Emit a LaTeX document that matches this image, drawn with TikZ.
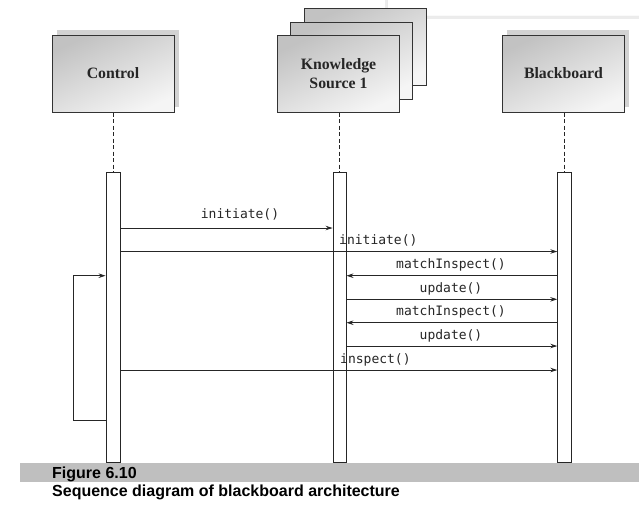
\documentclass[tikz,border=0pt]{standalone}
\usepackage{fontspec}
\setmainfont{Liberation Serif}
\newfontfamily\msgfont{DejaVu Sans Mono}
\newfontfamily\capfont{Liberation Sans}
\usetikzlibrary{arrows.meta}
\begin{document}
\begin{tikzpicture}[x=1pt,y=-1pt,
  objbox/.style={draw=black!80, line width=1pt, minimum width=122pt, minimum height=77pt,
    inner sep=0pt, top color=gray!48, bottom color=gray!8, shading angle=25,
    font=\bfseries\fontsize{15.8}{18.3}\selectfont, align=center, text=black!85},
  shadowbox/.style={fill=gray!35, draw=none},
  actbar/.style={draw=black!85, line width=0.9pt, fill=white, minimum height=290pt, inner sep=0pt},
  life/.style={draw=black!85, line width=0.8pt, dash pattern=on 4pt off 2.5pt},
  msg/.style={draw=black!85, line width=0.9pt, -{Stealth[length=7pt,width=4.5pt]}},
  msglabel/.style={font=\msgfont\fontsize{13}{14}\selectfont, text=black!85, inner sep=0pt},
  captext/.style={font=\capfont\bfseries\fontsize{16}{18}\selectfont, anchor=base west, inner sep=0pt}
]
\useasboundingbox (0,0) rectangle (639,520);
\fill[white] (0,0) rectangle (639,520);

% tooltip overlay at top right
\fill[gray!15] (385,-10) rectangle (645,18.5);
\draw[draw=gray!30, fill=white, rounded corners=5pt] (387.5,-10) rectangle (650,16);

% Control
\fill[shadowbox] (56.5,30) rectangle (178.5,107);
\node[objbox] (ctrl) at (113,73.5) {Control};

% Knowledge source stack
\node[objbox] (ks3) at (365,47.2) {};
\node[objbox] (ks2) at (351.5,60.5) {};
\node[objbox] (ks) at (338.5,73.5) {Knowledge\\Source 1};

% Blackboard
\fill[shadowbox] (507,30) rectangle (629,107);
\node[objbox] (bb) at (563.5,73.5) {Blackboard};

% activation bars
\node[actbar, minimum width=14pt] (cbar) at (113,317) {};
\node[actbar, minimum width=13pt] (kbar) at (339.5,317) {};
\node[actbar, minimum width=13.5pt] (bbar) at (564.5,317) {};

% lifelines
\draw[life] (ctrl.south) -- (cbar.north);
\draw[life] (ks.south -| kbar.north) -- (kbar.north);
\draw[life] (bb.south -| bbar.north) -- (bbar.north);

% messages
\draw[msg] (cbar.east |- 0,228) -- (kbar.west |- 0,228);
\node[msglabel] (l1) at (240,214) {initiate()};
\draw[msg] (cbar.east |- 0,251.5) -- (bbar.west |- 0,251.5);
\node[msglabel, anchor=west] (l2) at (339,240) {initiate()};
\draw[msg] (bbar.west |- 0,275.7) -- (kbar.east |- 0,275.7);
\node[msglabel] (l3) at (451,265) {matchInspect()};
\draw[msg] (kbar.east |- 0,299.3) -- (bbar.west |- 0,299.3);
\node[msglabel] (l4) at (451,288.5) {update()};
\draw[msg] (bbar.west |- 0,322.7) -- (kbar.east |- 0,322.7);
\node[msglabel] (l5) at (451,312) {matchInspect()};
\draw[msg] (kbar.east |- 0,346) -- (bbar.west |- 0,346);
\node[msglabel] (l6) at (451,336) {update()};
\draw[msg] (cbar.east |- 0,370) -- (bbar.west |- 0,370);
\node[msglabel, anchor=west] (l7) at (340,360) {inspect()};

% self loop
\coordinate (loopbl) at (73.5,420);
\coordinate (looptl) at (73.5,275.7);
\draw[msg] (cbar.west |- loopbl) -- (loopbl) -- (looptl) -- (cbar.west |- looptl);

% caption
\fill[gray!50] (19.5,463) rectangle (639,481.5);
\node[captext] (cap1) at (52,478.3) {Figure 6.10};
\node[captext] (cap2) at (52,496.5) {Sequence diagram of blackboard architecture};
\end{tikzpicture}
\end{document}
